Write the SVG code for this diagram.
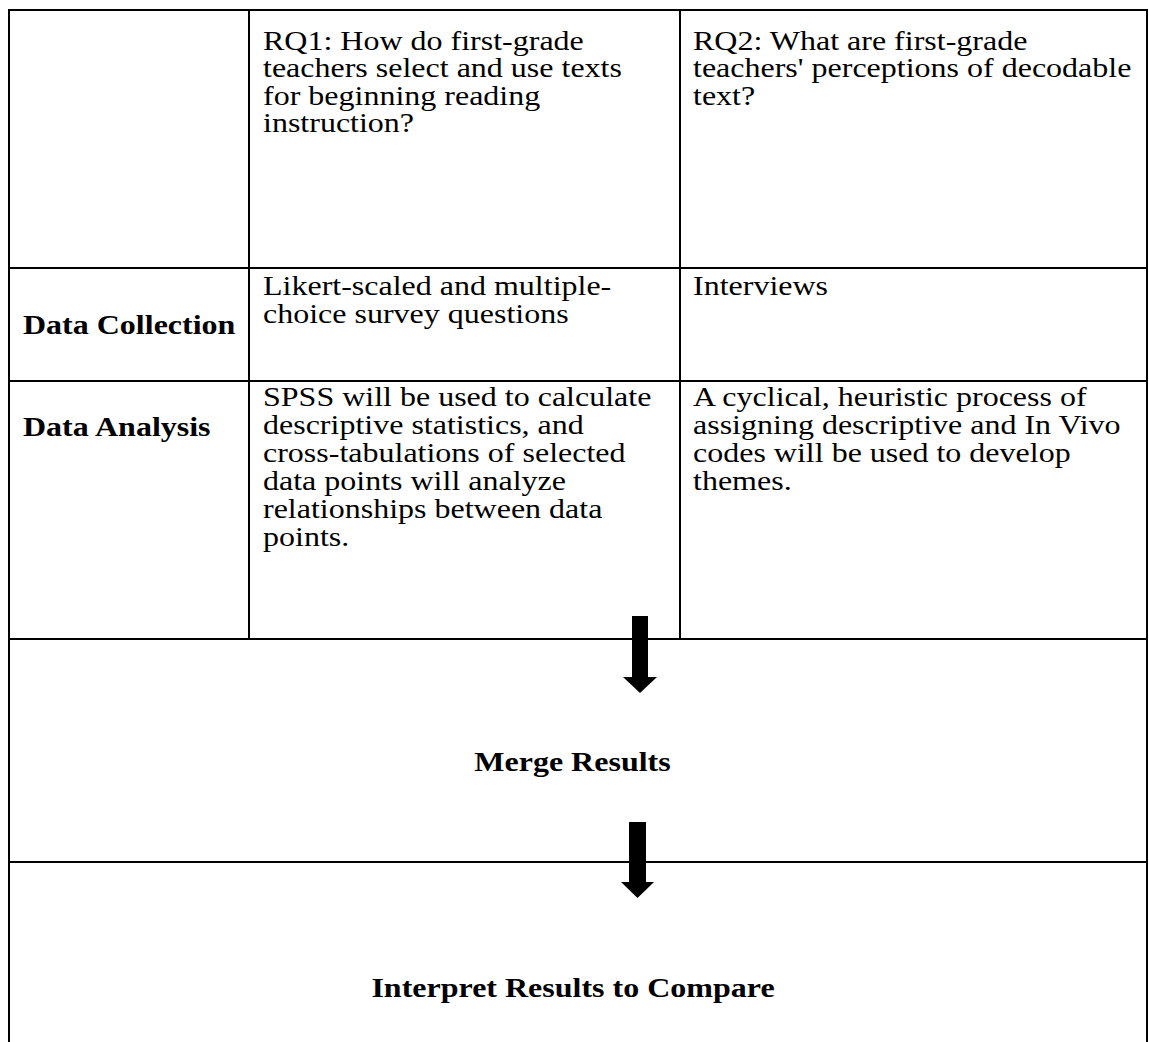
<svg xmlns="http://www.w3.org/2000/svg" width="1149" height="1042" viewBox="0 0 1149 1042">
<style>
.ln{stroke:#000;stroke-width:2;fill:none}
.t{font-family:"Liberation Serif","Times New Roman",serif;font-size:27.5px;fill:#000}
.b{font-family:"Liberation Serif","Times New Roman",serif;font-size:27.5px;font-weight:bold;fill:#000}
.c{text-anchor:middle}
.arr{fill:#000}
</style>
<rect width="1149" height="1042" fill="#fff"/>
<g id="grid">
<line class="ln" x1="8" y1="10" x2="1148" y2="10"/>
<line class="ln" x1="9" y1="9" x2="9" y2="1042"/>
<line class="ln" x1="1147" y1="9" x2="1147" y2="1042"/>
<line class="ln" x1="249" y1="10" x2="249" y2="639"/>
<line class="ln" x1="680" y1="10" x2="680" y2="639"/>
<line class="ln" x1="9" y1="268" x2="1147" y2="268"/>
<line class="ln" x1="9" y1="381" x2="1147" y2="381"/>
<line class="ln" x1="9" y1="639" x2="1147" y2="639"/>
<line class="ln" x1="9" y1="862" x2="1147" y2="862"/>
</g>
<g id="rq1" transform="translate(263 0) scale(1.164 1)">
<text class="t" x="0" y="50">RQ1: How do first-grade</text>
<text class="t" x="0" y="77.5">teachers select and use texts</text>
<text class="t" x="0" y="105">for beginning reading</text>
<text class="t" x="0" y="132.5">instruction?</text>
</g>
<g id="rq2" transform="translate(693 0) scale(1.164 1)">
<text class="t" x="0" y="50">RQ2: What are first-grade</text>
<text class="t" x="0" y="77.5">teachers' perceptions of decodable</text>
<text class="t" x="0" y="105">text?</text>
</g>
<g id="dc-label" transform="translate(23 0) scale(1.164 1)">
<text class="b" x="0" y="334">Data Collection</text>
</g>
<g id="dc-rq1" transform="translate(263 0) scale(1.164 1)">
<text class="t" x="0" y="295">Likert-scaled and multiple-</text>
<text class="t" x="0" y="323">choice survey questions</text>
</g>
<g id="dc-rq2" transform="translate(693 0) scale(1.164 1)">
<text class="t" x="0" y="295">Interviews</text>
</g>
<g id="da-label" transform="translate(23 0) scale(1.164 1)">
<text class="b" x="0" y="436">Data Analysis</text>
</g>
<g id="da-rq1" transform="translate(263 0) scale(1.164 1)">
<text class="t" x="0" y="406.5">SPSS will be used to calculate</text>
<text class="t" x="0" y="434.5">descriptive statistics, and</text>
<text class="t" x="0" y="462.5">cross-tabulations of selected</text>
<text class="t" x="0" y="490">data points will analyze</text>
<text class="t" x="0" y="518">relationships between data</text>
<text class="t" x="0" y="546">points.</text>
</g>
<g id="da-rq2" transform="translate(693 0) scale(1.164 1)">
<text class="t" x="0" y="406.5">A cyclical, heuristic process of</text>
<text class="t" x="0" y="434.5">assigning descriptive and In Vivo</text>
<text class="t" x="0" y="462.5">codes will be used to develop</text>
<text class="t" x="0" y="490">themes.</text>
</g>
<g id="merge" transform="translate(572.5 0) scale(1.164 1)">
<text class="b c" x="0" y="771">Merge Results</text>
</g>
<g id="interpret" transform="translate(573 0) scale(1.164 1)">
<text class="b c" x="0" y="997">Interpret Results to Compare</text>
</g>
<g id="connectors">
<polygon class="arr" points="632,616 648,616 648,677 657,677 640,693 623,677 632,677"/>
<polygon class="arr" points="629,822 646,822 646,882 654,882 637.5,898 621,882 629,882"/>
</g>
</svg>
